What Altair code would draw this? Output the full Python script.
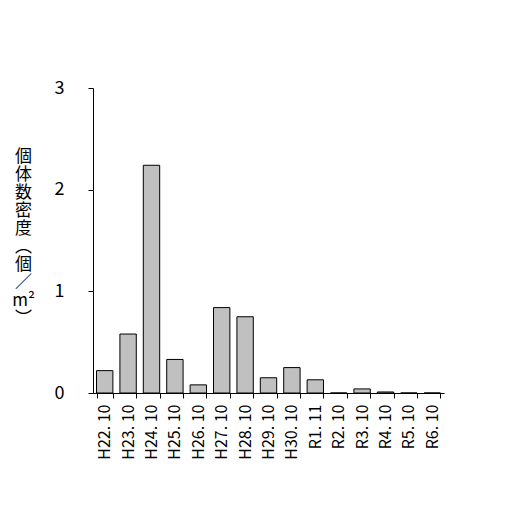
import altair as alt
import pandas as pd

categories = ["H22. 10", "H23. 10", "H24. 10", "H25. 10", "H26. 10", "H27. 10",
              "H28. 10", "H29. 10", "H30. 10", "R1. 11", "R2. 10", "R3. 10",
              "R4. 10", "R5. 10", "R6. 10"]
values = [0.22, 0.58, 2.24, 0.33, 0.08, 0.84, 0.75, 0.15, 0.25, 0.13, 0.0, 0.04, 0.01, 0.0, 0.0]
y_title = ["個", "体", "数", "密", "度", "︵", "個", "／", "m²", "︶"]

df = pd.DataFrame({"cat": categories, "val": values})

FONT = "Noto Sans CJK JP"

chart = alt.Chart(df).mark_bar(
    color="#c0c0c0", stroke="black", strokeWidth=1
).encode(
    x=alt.X("cat:N", sort=categories, title=None,
            scale=alt.Scale(paddingInner=0.3, paddingOuter=0.15),
            axis=alt.Axis(labelAngle=-90, labelFont=FONT, labelFontSize=16,
                          labelColor="black", tickBand="extent", tickSize=5,
                          tickColor="black", domainColor="black",
                          labelPadding=6)),
    y=alt.Y("val:Q", scale=alt.Scale(domain=[0, 3], nice=False),
            title=y_title,
            axis=alt.Axis(values=[0, 1, 2, 3], grid=False, tickSize=5,
                          tickColor="black", domainColor="black",
                          labelFont=FONT, labelFontSize=18, labelColor="black",
                          labelPadding=24,
                          titleAngle=0, titleFont=FONT, titleFontSize=17,
                          titleFontWeight="normal", titleColor="black",
                          titleLineHeight=18, titleAlign="center",
                          titleBaseline="top", titleX=-70, titleY=60)),
).properties(
    width=351, height=305,
    autosize=alt.AutoSizeParams(type="none"),
    padding={"left": 85, "top": 80, "right": 50, "bottom": 100},
).configure_view(stroke=None)

chart.save("out.html", embed_options={"renderer": "svg", "actions": False})
